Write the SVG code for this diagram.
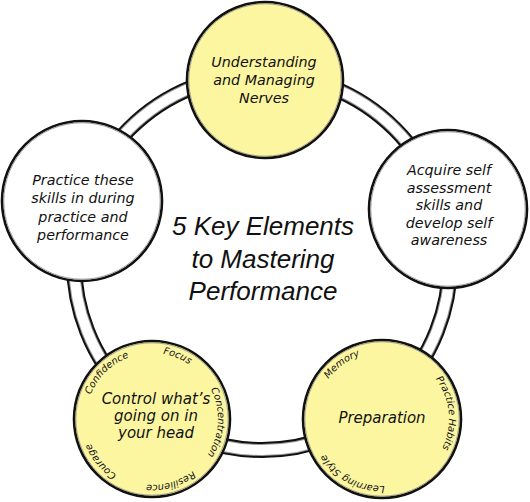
<svg xmlns="http://www.w3.org/2000/svg" width="530" height="502" viewBox="0 0 530 502">
<style>
.ringb{fill:none;stroke:#111;stroke-width:16}
.ringg{fill:none;stroke:#9a9a9a;stroke-width:12}
.ringw{fill:none;stroke:#fff;stroke-width:10}
.node{stroke:#111;stroke-width:2.6}
.inner{fill:none;stroke:#8a8a8a;stroke-width:0.8}
.y{fill:#fcf6a1}
.w{fill:#fff}
.t{font-family:"DejaVu Sans","Open Sans",sans-serif;font-style:italic;font-size:14.3px;fill:#111;text-anchor:middle}
.big{font-size:15px}
.c{font-family:"DejaVu Sans","Open Sans",sans-serif;font-style:italic;font-size:9.8px;fill:#111;text-anchor:middle}
.title{font-family:"Liberation Sans",Arial,sans-serif;font-style:italic;font-size:26px;fill:#111;text-anchor:middle}
</style>
<defs>
<path id="pbl" d="M152,353 A66,66 0 1 1 152,485 A66,66 0 1 1 152,353"/>
<path id="pbr" d="M382,352 A67,67 0 1 1 382,486 A67,67 0 1 1 382,352"/>
</defs>
<rect width="530" height="502" fill="#fff"/>
<g id="connectors">
<circle class="ringb" cx="262" cy="262" r="188"/>
<circle class="ringg" cx="262" cy="262" r="188"/>
<circle class="ringw" cx="262" cy="262" r="188"/>
</g>
<g id="node-nerves">
<circle class="node y" cx="265" cy="80" r="78"/>
<circle class="inner" cx="265" cy="80" r="76.2"/>
<text class="t"><tspan x="264" y="67">Understanding</tspan><tspan x="264" y="85">and Managing</tspan><tspan x="264" y="103">Nerves</tspan></text>
</g>
<g id="node-practice">
<circle class="node w" cx="82" cy="201" r="80"/>
<circle class="inner" cx="82" cy="201" r="78.2"/>
<text class="t"><tspan x="83" y="185">Practice these</tspan><tspan x="83" y="203">skills in during</tspan><tspan x="83" y="221.5">practice and</tspan><tspan x="83" y="239.5">performance</tspan></text>
</g>
<g id="node-self">
<circle class="node w" cx="448" cy="209" r="79"/>
<circle class="inner" cx="448" cy="209" r="77.2"/>
<text class="t"><tspan x="449" y="175">Acquire self</tspan><tspan x="449" y="192.5">assessment</tspan><tspan x="449" y="210">skills and</tspan><tspan x="449" y="227.5">develop self</tspan><tspan x="449" y="245">awareness</tspan></text>
</g>
<g id="node-head">
<circle class="node y" cx="152" cy="419" r="78"/>
<circle class="inner" cx="152" cy="419" r="76.2"/>
<text class="t big"><tspan x="156" y="403.5">Control what’s</tspan><tspan x="156" y="420.5">going on in</tspan><tspan x="156" y="437.5">your head</tspan></text>
<text class="c"><textPath href="#pbl" startOffset="25.3">Focus</textPath></text>
<text class="c"><textPath href="#pbl" startOffset="107">Concentration</textPath></text>
<text class="c"><textPath href="#pbl" startOffset="188">Resilience</textPath></text>
<text class="c"><textPath href="#pbl" startOffset="265">Courage</textPath></text>
<text class="c"><textPath href="#pbl" startOffset="363">Confidence</textPath></text>
</g>
<g id="node-prep">
<circle class="node y" cx="382" cy="419" r="79"/>
<circle class="inner" cx="382" cy="419" r="77.2"/>
<text class="t big" x="382" y="423">Preparation</text>
<text class="c"><textPath href="#pbr" startOffset="99">Practice Habits</textPath></text>
<text class="c"><textPath href="#pbr" startOffset="243">Learning Style</textPath></text>
<text class="c"><textPath href="#pbr" startOffset="378">Memory</textPath></text>
</g>
<g id="title">
<text class="title"><tspan x="263" y="235">5 Key Elements</tspan><tspan x="263" y="268">to Mastering</tspan><tspan x="263" y="300">Performance</tspan></text>
</g>
</svg>
